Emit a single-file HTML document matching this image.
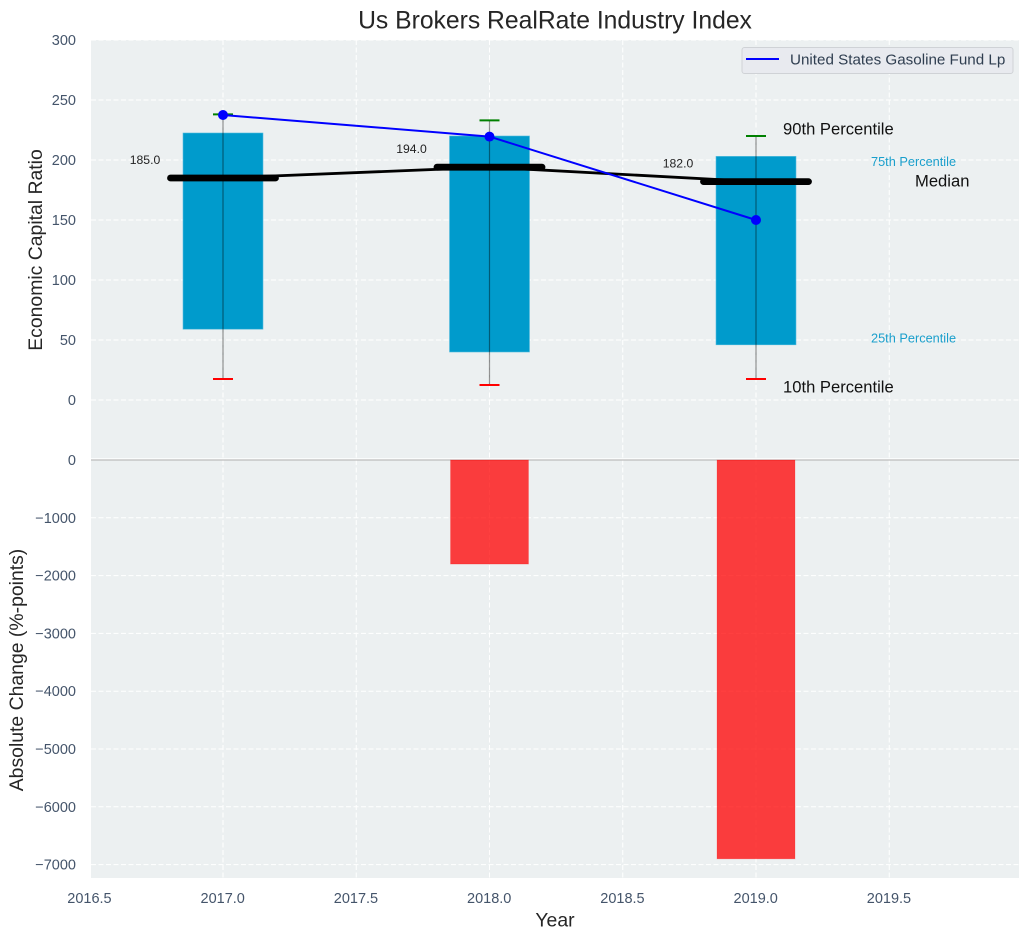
<!DOCTYPE html>
<html>
<head>
<meta charset="utf-8">
<title>Us Brokers RealRate Industry Index</title>
<style>
html,body{margin:0;padding:0;background:#fff;width:1029px;height:940px;overflow:hidden}
svg{display:block;font-family:"Liberation Sans",sans-serif}
</style>
</head>
<body>
<svg id="chart" width="1029" height="940" viewBox="0 0 1029 940" xmlns="http://www.w3.org/2000/svg"></svg>
<script>
const years = [2017, 2018, 2019];
const p90 = [238, 233, 220];
const p75 = [222.5, 220, 203];
const median = [185, 194, 182];
const p25 = [59, 40, 46];
const p10 = [17.5, 12.5, 17.5];
const fund = [237.5, 219.5, 150];
const absChange = [0, -1800, -6900];
const xTicks = [2016.5, 2017, 2017.5, 2018, 2018.5, 2019, 2019.5];
const topTicks = [0, 50, 100, 150, 200, 250, 300];
const bottomTicks = [0, -1000, -2000, -3000, -4000, -5000, -6000, -7000];

const svg = document.getElementById('chart');
const NS = 'http://www.w3.org/2000/svg';
const left = 91, right = 1019, top_ = 40, mid = 460, bottom = 878;
const xS = v => 223 + (v - 2017) * 266.5;
const yT = v => 400 - v * 1.2;
const yB = v => 460 - v * 0.0578;

function make(tag, attrs, name, text) {
  const el = document.createElementNS(NS, tag);
  for (const k in attrs) el.setAttribute(k, attrs[k]);
  
  
  if (text !== undefined) el.textContent = text;
  svg.appendChild(el);
  return el;
}
function line(x1, y1, x2, y2, stroke, w, name, extra) {
  return make('line', Object.assign({x1, y1, x2, y2, stroke, 'stroke-width': w}, extra || {}), name);
}
function label(x, y, s, size, fill, anchor, name, extra) {
  return make('text', Object.assign({x, y, 'font-size': size, fill, 'text-anchor': anchor || 'start', 'dominant-baseline': 'central'}, extra || {}), name, s);
}
const tickColor = '#44546a';

make('rect', {x: left, y: top_, width: right - left, height: mid - top_, fill: '#ecf0f1'}, 'top-panel');
make('rect', {x: left, y: mid, width: right - left, height: bottom - mid, fill: '#ecf0f1'}, 'bottom-panel');

const dash = {'stroke-dasharray': '5 2.5'};
xTicks.forEach(t => {
  line(xS(t), top_, xS(t), mid, '#fff', 1, 'top-x-gridline', dash);
  line(xS(t), mid, xS(t), bottom, '#fff', 1, 'bottom-x-gridline', dash);
  label(xS(t) - 0.3, 899, t.toFixed(1), 14.5, tickColor, 'middle', 'x-tick-label');
});
topTicks.forEach(t => {
  line(left, yT(t), right, yT(t), '#fff', 1, 'top-y-gridline', dash);
  label(76, yT(t) + 1, String(t), 14.5, tickColor, 'end', 'top-y-tick-label');
});
bottomTicks.forEach(t => {
  if (t !== 0) line(left, yB(t), right, yB(t), '#fff', 1, 'bottom-y-gridline', dash);
  label(76, yB(t) + 1, String(t).replace('-', '\u2212'), 14.5, tickColor, 'end', 'bottom-y-tick-label');
});

line(left, mid - 1.2, right, mid - 1.2, '#fff', 1.2, 'panel-separator');
line(left, mid, right, mid, '#bdbdbd', 1.2, 'zero-line');

// Percentile boxes
years.forEach((yr, i) => {
  const bw = 0.3 * 266.5;
  make('rect', {x: xS(yr) - bw / 2, y: yT(p75[i]), width: bw, height: yT(p25[i]) - yT(p75[i]), fill: '#009bcc', stroke: '#4db9dc', 'stroke-width': 0.6}, 'percentile-box-' + yr);
});
// Whiskers
years.forEach((yr, i) => {
  line(xS(yr), yT(p90[i]), xS(yr), yT(p10[i]), '#000', 1.2, 'whisker-' + yr, {'stroke-opacity': 0.42});
  line(xS(yr) - 10, yT(p90[i]), xS(yr) + 10, yT(p90[i]), '#008000', 2, 'p90-cap-' + yr);
  line(xS(yr) - 10, yT(p10[i]), xS(yr) + 10, yT(p10[i]), '#ff0000', 2, 'p10-cap-' + yr);
});
// Median connecting line and thick median bars
make('polyline', {points: years.map((yr, i) => xS(yr) + ',' + yT(median[i])).join(' '), fill: 'none', stroke: '#000', 'stroke-width': 2.8}, 'median-line');
years.forEach((yr, i) => {
  line(xS(yr) - 52.5, yT(median[i]), xS(yr) + 52.5, yT(median[i]), '#000', 6.8, 'median-bar-' + yr, {'stroke-linecap': 'round'});
  label(xS(yr) - 78, yT(median[i]) - 18, median[i].toFixed(1), 12.2, '#222', 'middle', 'median-value-' + yr);
});
// Fund series
make('polyline', {points: years.map((yr, i) => xS(yr) + ',' + yT(fund[i])).join(' '), fill: 'none', stroke: '#0000ff', 'stroke-width': 2}, 'fund-line');
years.forEach((yr, i) => {
  make('circle', {cx: xS(yr), cy: yT(fund[i]), r: 5, fill: '#0000ff'}, 'fund-point-' + yr);
});
// Absolute change bars
years.forEach((yr, i) => {
  if (absChange[i] === 0) return;
  const bw = 0.3 * 266.5 - 2;
  make('rect', {x: xS(yr) - bw / 2, y: yB(0), width: bw, height: yB(absChange[i]) - yB(0), fill: '#ff0000', 'fill-opacity': 0.75, stroke: '#ff0000', 'stroke-opacity': 0.25, 'stroke-width': 0.8}, 'absolute-change-bar-' + yr);
});

// Percentile annotations
const last = years.length - 1;
const lx = xS(years[last]);
label(lx + 27, yT(p90[last]) - 7, '90th Percentile', 16.6, '#111', 'start', 'p90-annotation');
label(lx + 115, yT(p75[last]) + 5, '75th Percentile', 12.75, '#1a9fcc', 'start', 'p75-annotation');
label(lx + 159, yT(median[last]) - 0.5, 'Median', 16.6, '#111', 'start', 'median-annotation');
label(lx + 115, yT(p25[last]) - 7, '25th Percentile', 12.75, '#1a9fcc', 'start', 'p25-annotation');
label(lx + 27, yT(p10[last]) + 8, '10th Percentile', 16.6, '#111', 'start', 'p10-annotation');

// Legend
make('rect', {x: 742, y: 47.5, width: 271, height: 26, rx: 2.5, fill: '#e8eaef', stroke: '#cfd2d6', 'stroke-width': 1}, 'legend-box');
line(746, 59, 779, 59, '#0000ff', 2, 'legend-line');
label(790, 60, 'United States Gasoline Fund Lp', 15.2, '#2f3e50', 'start', 'legend-label');

// Titles
label(555, 21, 'Us Brokers RealRate Industry Index', 24.7, '#262626', 'middle', 'chart-title');
label(555, 920.5, 'Year', 19.4, '#262626', 'middle', 'x-axis-title');
label(36, 250, 'Economic Capital Ratio', 19.4, '#262626', 'middle', 'top-y-axis-title', {transform: 'rotate(-90 36 250)'});
label(17, 670, 'Absolute Change (%-points)', 19.4, '#262626', 'middle', 'bottom-y-axis-title', {transform: 'rotate(-90 17 670)'});
</script>
</body>
</html>
